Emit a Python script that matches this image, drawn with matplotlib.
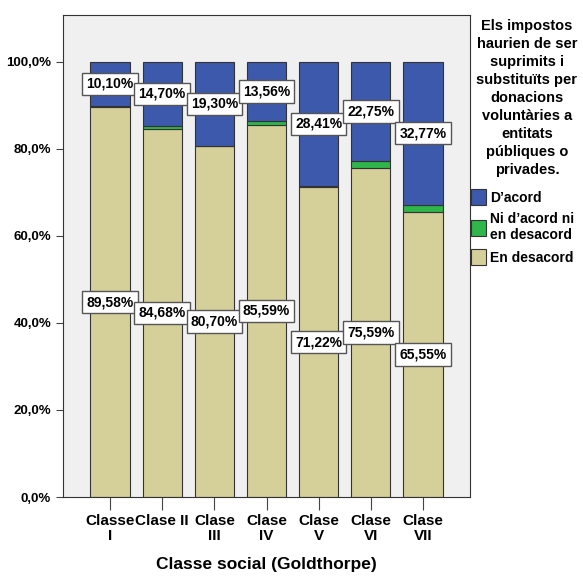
import numpy as np
import matplotlib.pyplot as plt

plt.rcParams['font.family'] = ['Liberation Sans', 'DejaVu Sans']

classes = ["Classe\nI", "Clase II", "Clase\nIII", "Clase\nIV", "Clase\nV", "Clase\nVI", "Clase\nVII"]
en_desacord = [89.58, 84.68, 80.70, 85.59, 71.22, 75.59, 65.55]
ni_acord = [0.32, 0.62, 0.00, 0.85, 0.37, 1.66, 1.68]
d_acord = [10.10, 14.70, 19.30, 13.56, 28.41, 22.75, 32.77]

col_blue = '#3d59ab'
col_green = '#2fb64a'
col_tan = '#d5d09a'

fig = plt.figure(figsize=(5.83, 5.77), dpi=100)
ax = fig.add_axes([63 / 583, 80 / 577, 407 / 583, 482 / 577])
ax.set_facecolor('#f0f0f0')

x = np.arange(len(classes))
w = 0.75
edge = dict(edgecolor='#333333', linewidth=0.8)
b1 = ax.bar(x, en_desacord, w, color=col_tan, label='En desacord', **edge)
bottom2 = np.array(en_desacord)
b2 = ax.bar(x, ni_acord, w, bottom=bottom2, color=col_green, label="Ni d\u2019acord ni\nen desacord", **edge)
bottom3 = bottom2 + np.array(ni_acord)
b3 = ax.bar(x, d_acord, w, bottom=bottom3, color=col_blue, label="D\u2019acord", **edge)

box = dict(boxstyle='square,pad=0.3', fc='white', ec='#555555', lw=1)
for i in range(len(classes)):
    ax.text(x[i], en_desacord[i] / 2, f"{en_desacord[i]:.2f}%".replace('.', ','),
            ha='center', va='center', fontsize=10, fontweight='bold', bbox=box)
    ax.text(x[i], bottom3[i] + d_acord[i] / 2, f"{d_acord[i]:.2f}%".replace('.', ','),
            ha='center', va='center', fontsize=10, fontweight='bold', bbox=box)

ax.set_xlim(-0.9, 6.9)
ax.set_ylim(0, 110.8)
ax.set_yticks([0, 20, 40, 60, 80, 100])
ax.set_yticklabels(["0,0%", "20,0%", "40,0%", "60,0%", "80,0%", "100,0%"],
                   fontsize=9.5, fontweight='bold')
ax.set_xticks(x)
ax.set_xticklabels(classes, fontsize=11, fontweight='bold', linespacing=1.1)
ax.tick_params(axis='x', length=9, color='#444444', pad=3)
ax.tick_params(axis='y', length=5, color='#444444')
for s in ax.spines.values():
    s.set_color('#333333')
ax.set_xlabel("Classe social (Goldthorpe)", fontsize=12.5, fontweight='bold', labelpad=10)

fig.text(527 / 583, 1 - 19 / 577,
         "Els impostos\nhaurien de ser\nsuprimits i\nsubstituïts per\ndonacions\nvoluntàries a\nentitats\npúbliques o\nprivades.",
         ha='center', va='top', fontsize=10.5, fontweight='bold', linespacing=1.36)

leg = fig.legend(handles=[b3, b2, b1], loc='upper left', bbox_to_anchor=(471 / 583, 1 - 189 / 577),
                 frameon=False, fontsize=10, handlelength=1.1, handleheight=1.4,
                 handletextpad=0.25, labelspacing=0.5, borderaxespad=0, borderpad=0)
for t in leg.get_texts():
    t.set_fontweight('bold')

plt.savefig("out.png", dpi=100)
